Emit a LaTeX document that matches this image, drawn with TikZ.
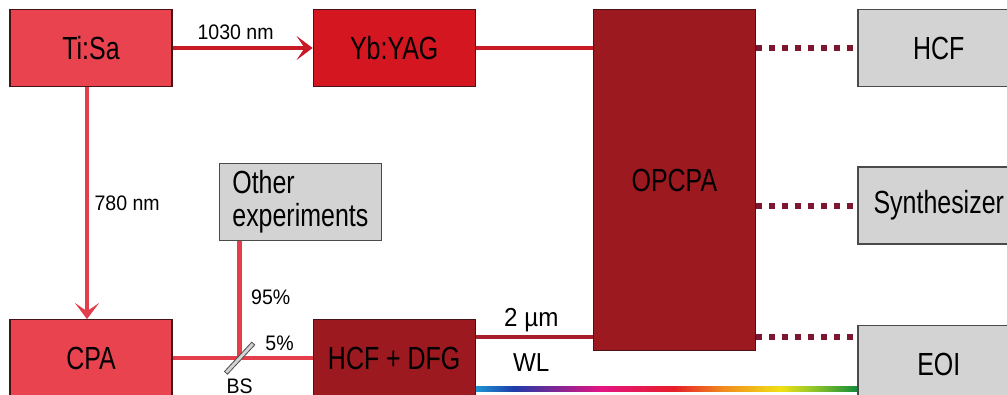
\documentclass[tikz,border=0pt]{standalone}
\usepackage{fontspec}
\setmainfont{Liberation Sans}
\newfontfamily\boxfont{Liberation Sans}[FakeStretch=0.78]
\newfontfamily\lblfont{Liberation Sans}[FakeStretch=0.93]
\usetikzlibrary{arrows.meta, positioning}

\definecolor{tisacol}{RGB}{233,67,80}
\definecolor{yagcol}{RGB}{212,22,32}
\definecolor{opcpacol}{RGB}{156,26,31}
\definecolor{boxedge}{RGB}{70,20,22}
\definecolor{grayfill}{RGB}{211,211,211}
\definecolor{grayedge}{RGB}{75,75,75}
\definecolor{beamlight}{RGB}{228,62,76}
\definecolor{beamred}{RGB}{200,26,36}
\definecolor{beamdark}{RGB}{168,30,44}
\definecolor{dotcol}{RGB}{125,22,48}
% white-light spectrum
\definecolor{wlcyan}{RGB}{30,150,210}
\definecolor{wlblue}{RGB}{30,60,170}
\definecolor{wlpurple}{RGB}{120,40,150}
\definecolor{wlmagenta}{RGB}{228,20,130}
\definecolor{wlred}{RGB}{230,30,40}
\definecolor{wlorange}{RGB}{240,140,30}
\definecolor{wlyellow}{RGB}{240,225,20}
\definecolor{wlygreen}{RGB}{150,200,40}
\definecolor{wlgreen}{RGB}{20,140,60}
\pgfdeclarehorizontalshading{rainbow}{100bp}{color(0bp)=(wlcyan); color(25bp)=(wlcyan);
  color(30bp)=(wlblue); color(35bp)=(wlpurple); color(41.5bp)=(wlmagenta);
  color(51bp)=(wlred); color(57.5bp)=(wlorange); color(65bp)=(wlyellow);
  color(69bp)=(wlygreen); color(75bp)=(wlgreen); color(100bp)=(wlgreen)}

\newcommand\boxtxt{\boxfont\fontsize{32pt}{33pt}\selectfont}
\newcommand\lbltxt{\lblfont\fontsize{21pt}{24pt}\selectfont}
\newcommand\beamtxt{\lblfont\fontsize{26pt}{28pt}\selectfont}

\begin{document}
\begin{tikzpicture}[
        x=1pt, y=1pt,
        >={Stealth[length=16pt, width=24pt, inset=8pt]},
        redbox/.style={draw=boxedge, line width=1.2pt, minimum width=162pt, minimum height=77pt, inner sep=0pt, align=center, font=\boxtxt},
        graybox/.style={redbox, draw=grayedge, fill=grayfill, line width=1.5pt},
        beam/.style={line width=4.5pt},
        dots/.style={draw=dotcol, line width=6pt, dash pattern=on 6pt off 7pt},
        lbl/.style={font=\lbltxt},
        biglbl/.style={font=\beamtxt},
        bsplate/.style={draw=gray!60!black, fill=gray!35, minimum width=40pt, minimum height=4pt, inner sep=0pt, line width=0.8pt}
    ]
        \useasboundingbox (0,0) rectangle (1007,394);
        \clip (0,0) rectangle (1007,394);

        % Nodes
        \node [redbox, fill=tisacol] (tisa) at (91,346) {Ti:Sa};
        \node [redbox, fill=yagcol, right=140pt of tisa] (ybyag) {Yb:YAG};
        \node [redbox, fill=opcpacol, minimum height=341pt, anchor=north west] (opcpa) at ([xshift=117pt]ybyag.north east) {OPCPA};
        \node [redbox, fill=tisacol, below=232pt of tisa] (cpa) {CPA};
        \node [redbox, fill=opcpacol, right=140pt of cpa] (hcfdfg) {HCF + DFG};
        \node [graybox, align=left, above right=78pt and 46pt of cpa.north east] (other) {Other\\experiments};

        \node [graybox, anchor=north west] (hcf) at ([xshift=101pt]opcpa.north east) {HCF};
        \node [graybox, below=79pt of hcf] (synth) {Synthesizer};
        \node [graybox, below=80pt of synth] (eoi) {EOI};

        \coordinate (bs) at ([xshift=67pt]cpa.east);
        \coordinate (mu) at ([yshift=-18pt]hcfdfg.north east);
        \coordinate (wla) at ([yshift=-31pt]hcfdfg.east);
        \coordinate (wlb) at (eoi.west |- wla);

        % Connections
        \draw [beam, beamred, ->] (tisa) -- node[lbl, black, above=3pt, pos=0.45] {1030 nm} (ybyag);
        \draw [beam, beamlight, ->] ([xshift=-4pt]tisa.south) -- node[lbl, black, right=2pt] {780 nm} ([xshift=-4pt]cpa.north);
        \draw [beam, beamred] (ybyag) -- (ybyag -| opcpa.west);
        \draw [beam, beamlight] (cpa) -- (hcfdfg);
        \draw [beam, beamlight] (other.south -| bs) -- node[lbl, black, right=6pt, pos=0.48] {95\%} (bs);
        \draw [beam, beamdark] (mu) -- node[biglbl, black, above=0pt, xshift=-3pt] {2 µm} (mu -| opcpa.west);
        \shade [shading=rainbow] ([yshift=-2.5pt]wla) rectangle ([yshift=2.5pt]wlb);
        \path (wla) -- node[biglbl, yshift=27pt, xshift=-3pt] {WL} (wla -| opcpa.west);

        % Beam splitter
        \node [bsplate, rotate=47] (plate) at (bs) {};
        \node [lbl] at ([shift={(40pt,15pt)}]bs) {5\%};
        \node [lbl] at ([yshift=-28pt]bs) {BS};

        % Outputs
        \draw [dots] (opcpa.east |- hcf) -- (hcf);
        \draw [dots] (opcpa.east |- synth) -- (synth);
        \draw [dots] (opcpa.east |- mu) -- (eoi.west |- mu);
    \end{tikzpicture}
\end{document}
